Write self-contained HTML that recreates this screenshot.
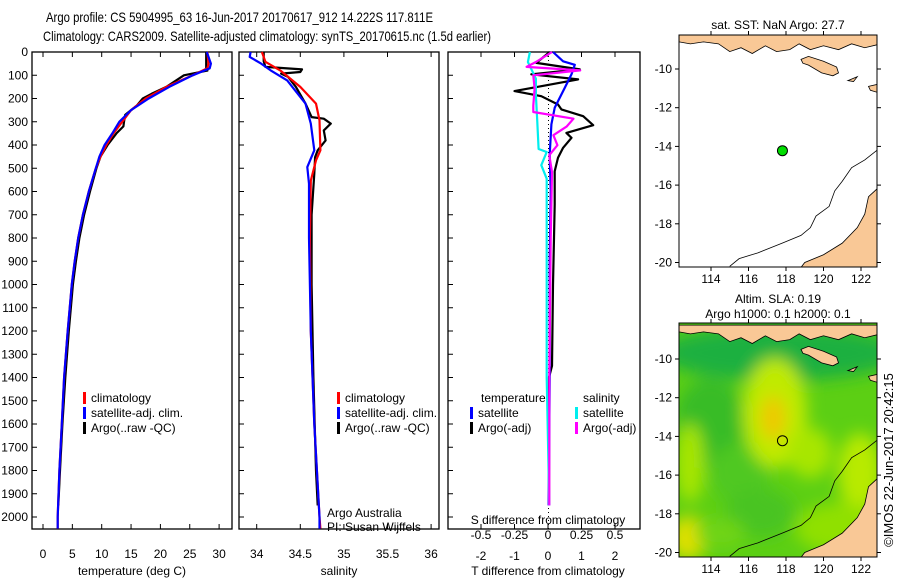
<!DOCTYPE html>
<html><head><meta charset="utf-8"><style>
body{margin:0;background:#fff}
svg{display:block;font-family:"Liberation Sans",sans-serif}
</style></head><body>
<svg id="fig" width="900" height="580" viewBox="0 0 900 580" xmlns="http://www.w3.org/2000/svg">
<text x="46" y="22" font-size="14" textLength="387" lengthAdjust="spacingAndGlyphs">Argo profile: CS 5904995_63 16-Jun-2017 20170617_912 14.222S 117.811E</text>
<text x="43" y="41" font-size="14" textLength="448" lengthAdjust="spacingAndGlyphs">Climatology: CARS2009. Satellite-adjusted climatology: synTS_20170615.nc (1.5d earlier)</text>
<g id="g1"></g>
<g id="g2"></g>
<g id="g3"></g>
<g id="m1"></g>
<g id="m2"></g>
<text transform="translate(893,460) rotate(-90)" text-anchor="middle" font-size="13">©IMOS 22-Jun-2017 20:42:15</text>
</svg>
<script>
// ---- data ----
const tempDepth = [0,50,70,100,150,200,250,300,350,400,450,500,600,700,800,900,1000,1200,1400,1600,1800,2000,2050];
const tempClim  = [28,28.2,28,25.5,21,17.5,15,13.5,12,10.8,9.8,9,7.8,6.8,6,5.4,4.9,4.2,3.6,3.2,2.8,2.5,2.5];
const tempSat   = [27.9,28.6,28.4,25.5,21.5,18,15,13,11.8,10.5,9.6,9,7.8,6.8,6,5.4,4.9,4.2,3.6,3.2,2.8,2.5,2.5];
const argoTDepth = [0,70,80,100,150,180,200,230,250,270,300,320,350,400,450,500,600,700,800,900,1000,1200,1400,1600,1800,1950];
const argoTemp   = [27.8,27.8,28,24,21,18.5,17,16,15,14,13.8,13.7,12.5,11,9.8,9.1,8,7,6.2,5.6,5.1,4.4,3.8,3.3,2.9,2.6];

const salDepth = [0,42,79,150,222,294,423,466,553,800,1200,1600,2000,2050];
const salClim  = [34.06,34.1,34.27,34.5,34.68,34.72,34.73,34.68,34.62,34.61,34.62,34.66,34.72,34.73];
const satSDepth = [0,21,50,79,122,222,308,423,495,567,800,1200,1600,2000,2050];
const salSat    = [33.93,33.92,34.05,34.16,34.35,34.56,34.62,34.66,34.58,34.6,34.6,34.62,34.66,34.72,34.72];
const argoSDepth = [0,40,64,75,86,93,107,150,222,280,287,308,337,380,423,452,523,700,1000,1400,1800,1950];
const argoSal    = [34.08,34.08,34.1,34.52,34.5,34.28,34.36,34.45,34.56,34.63,34.77,34.85,34.77,34.79,34.7,34.67,34.66,34.63,34.63,34.65,34.68,34.7];

const dTDepth = [0,47,75,96,118,147,168,190,226,247,276,315,348,369,412,455,513,656,800,1000,1350,1400,1950];
const dTArgo  = [0.05,-0.35,0.95,-0.5,0.9,-0.2,-1,-0.2,0.3,0.4,1.05,1.35,0.55,0.7,0.45,0.3,0.2,0.2,0.18,0.15,0.12,0.03,0.03];
const dTSDepth = [0,40,55,96,154,240,311,441,600,900,1400,1950];
const dTSat    = [0.15,0.45,0.8,0.7,0.5,0.2,0.1,0.05,0.08,0.05,0.05,0.02];
const dSSDepth = [0,43,115,186,301,417,430,487,545,800,1400,1950];
const dSSat    = [-0.135,-0.15,-0.09,-0.09,-0.08,-0.07,-0.01,-0.05,-0.01,-0.01,-0.01,0.01];
const dSADepth = [0,43,64,79,100,158,230,258,287,320,358,401,444,516,800,1400,1950];
const dSArgo   = [0.03,-0.09,-0.16,0.24,-0.11,-0.1,-0.11,-0.11,0.19,0.14,0.04,0.07,0.01,0.03,0.02,0.01,0.01];

const depthTicks = [0,100,200,300,400,500,600,700,800,900,1000,1100,1200,1300,1400,1500,1600,1700,1800,1900,2000];
const tempTicks = [0,5,10,15,20,25,30];
const salTicks = [34,34.5,35,35.5,36];
const salTickLabels = ['34','34.5','35','35.5','36'];
const dTTicks = [-2,-1,0,1,2];
const dSTicks = [-0.5,-0.25,0,0.25,0.5];
const dSTickLabels = ['-0.5','-0.25','0','0.25','0.5'];
const lonTicks = [114,116,118,120,122];
const latTicks = [-10,-12,-14,-16,-18,-20];
const floatLon = 117.811, floatLat = -14.222;

// ---- helpers ----
const NS='http://www.w3.org/2000/svg';
function mk(tag, attrs, parent){const e=document.createElementNS(NS,tag);for(const k in attrs)e.setAttribute(k,attrs[k]);parent.appendChild(e);return e;}
const PT=52, PB=529;
const yD = d => PT + d*0.2325;
function frame(g,x0,x1){
  const r=mk('rect',{x:x0,y:PT,width:x1-x0,height:PB-PT,fill:'none',stroke:'#000','stroke-width':1.3},g);
  
  
  depthTicks.forEach(d=>{mk('line',{x1:x0,x2:x0+5,y1:yD(d),y2:yD(d),stroke:'#000'},g);});
}
function xticks(g,vals,fx,labels,y){
  vals.forEach((v,i)=>{const x=fx(v);
    mk('line',{x1:x,x2:x,y1:PT,y2:PT+5,stroke:'#000'},g);
    mk('line',{x1:x,x2:x,y1:PB,y2:PB-5,stroke:'#000'},g);
    if(labels){const t=mk('text',{x:x,y:y,'text-anchor':'middle','font-size':12},g);t.textContent=labels[i];
      
      }
  });
}
function line(g,xs,ds,fx,color,name,w){
  const p=xs.map((v,i)=>fx(v).toFixed(1)+','+yD(ds[i]).toFixed(1)).join(' ');
  const e=mk('polyline',{points:p,fill:'none',stroke:color,'stroke-width':w||2.2,'stroke-linejoin':'round'},g);
  
  
}
function txt(g,x,y,s,name,size,anchor){const t=mk('text',{x:x,y:y,'font-size':size||12,'text-anchor':anchor||'start'},g);t.textContent=s;
  
  return t;}
function legend(g,x,y,items){
  items.forEach((it,i)=>{mk('rect',{x:x,y:y+i*15-10,width:3,height:12,fill:it[0]},g);
    txt(g,x+8,y+i*15,it[1],'legend-entry');});
}

// ---- panel 1: temperature ----
const g1=document.getElementById('g1');
const xT=v=>43+v*5.87;
frame(g1,32,232);
depthTicks.forEach(d=>txt(g1,28,yD(d)+4,String(d),'y-tick-label',12,'end'));
xticks(g1,tempTicks,xT,tempTicks.map(String),558);
txt(g1,132,575,'temperature (deg C)','x-axis-title',12,'middle');
line(g1,argoTemp,argoTDepth,xT,'#000','argo-temperature-line');
line(g1,tempClim,tempDepth,xT,'#f00','climatology-temperature-line');
line(g1,tempSat,tempDepth,xT,'#00f','satellite-temperature-line');
legend(g1,83,402,[['#f00','climatology'],['#00f','satellite-adj. clim.'],['#000','Argo(..raw -QC)']]);

// ---- panel 2: salinity ----
const g2=document.getElementById('g2');
const xS=v=>256.7+(v-34)*87.2;
frame(g2,239,439);
xticks(g2,salTicks,xS,salTickLabels,558);
txt(g2,339,575,'salinity','x-axis-title',12,'middle');
line(g2,argoSal,argoSDepth,xS,'#000','argo-salinity-line');
line(g2,salClim,salDepth,xS,'#f00','climatology-salinity-line');
line(g2,salSat,satSDepth,xS,'#00f','satellite-salinity-line');
legend(g2,337,402,[['#f00','climatology'],['#00f','satellite-adj. clim.'],['#000','Argo(..raw -QC)']]);
txt(g2,327,517,'Argo Australia','credit-line-1');
txt(g2,327,531,'PI: Susan Wijffels','credit-line-2');

// ---- panel 3: differences ----
const g3=document.getElementById('g3');
const xdT=v=>548+v*33.5;
const xdS=v=>548+v*134;
frame(g3,448,640);
xticks(g3,dTTicks,xdT,dTTicks.map(String),560);
dSTicks.forEach((v,i)=>txt(g3,xdS(v),539,dSTickLabels[i],'s-tick-label',12,'middle'));
txt(g3,548,524,'S difference from climatology','s-axis-title',12,'middle');
txt(g3,548,575,'T difference from climatology','x-axis-title',12,'middle');
const z=mk('line',{x1:548.5,x2:548.5,y1:PT,y2:PB,stroke:'#000','stroke-dasharray':'1,3'},g3);


line(g3,dTArgo,dTDepth,xdT,'#000','argo-t-diff-line');
line(g3,dTSat,dTSDepth,xdT,'#00f','satellite-t-diff-line');
line(g3,dSSat,dSSDepth,xdS,'#0ee','satellite-s-diff-line');
line(g3,dSArgo,dSADepth,xdS,'#f0f','argo-s-diff-line');
txt(g3,481,402,'temperature','legend-title');
txt(g3,583,402,'salinity','legend-title');
legend(g3,470,417,[['#00f','satellite'],['#000','Argo(-adj)']]);
legend(g3,575,417,[['#0ee','satellite'],['#f0f','Argo(-adj)']]);

// ---- maps ----
const islands=[
 [[112.3,-8.25],[122.85,-8.25],[122.85,-8.75],[122.2,-8.9],[121.5,-8.7],[120.8,-9.0],[120,-8.8],[119.3,-9.0],[118.7,-8.7],[118.2,-9.0],[117.5,-9.1],[116.9,-8.8],[116.2,-9.2],[115.6,-8.9],[115,-9.1],[114.4,-8.7],[113.6,-8.6],[112.9,-8.7],[112.3,-8.6]],
 [[118.8,-9.5],[119.2,-9.35],[120,-9.6],[120.7,-9.9],[120.8,-10.2],[120.5,-10.35],[119.9,-10.2],[119.2,-9.8],[118.9,-9.7]],
 [[121.3,-10.6],[121.8,-10.4],[121.6,-10.65]],
 [[122.4,-10.9],[122.85,-10.8],[122.85,-11.2],[122.5,-11.1]],
 [[122.85,-16.2],[122.4,-16.6],[122.2,-17.5],[121.8,-18.2],[121,-19],[120,-19.6],[119,-20],[118.8,-20.25],[122.85,-20.25]]
];
const bathy=[[115,-20.2],[115.5,-19.8],[116.5,-19.5],[117.8,-19],[118.8,-18.6],[119.3,-18.2],[119.6,-17.6],[120.3,-17.1],[120.6,-16.3],[121,-15.8],[121.5,-15.1],[122.2,-14.7],[122.85,-14.2]];
function drawMap(g,y0,y1,latY10,title,subtitle,sla){
  const fx=l=>711+(l-114)*18.75, fy=la=>latY10+(-10-la)*19.35;
  const cid='c'+y0;
  const cp=mk('clipPath',{id:cid},g);mk('rect',{x:679,y:y0,width:198,height:y1-y0},cp);
  const inner=mk('g',{'clip-path':'url(#'+cid+')'},g);
  if(sla){
    const f=mk('filter',{id:'bl',x:'-20%',y:'-20%',width:'140%',height:'140%'},g);mk('feGaussianBlur',{stdDeviation:8},f);
    mk('rect',{x:679,y:y0,width:198,height:y1-y0,fill:'#5ccf14'},inner);
    const bg=mk('g',{filter:'url(#bl)'},inner);
    [[780,y0+30,120,28,'#1fb040'],[710,y0+100,35,45,'#38bc28'],[740,y0+150,30,30,'#50c820'],
     [775,y0+90,32,55,'#c0ea00'],[773,y0+95,12,22,'#f0c800'],[810,y0+130,22,25,'#a8e600'],
     [860,y0+150,22,40,'#b8ea00'],[690,y0+140,14,40,'#a8e600'],[688,y0+215,18,22,'#e0e000'],
     [760,y0+190,35,25,'#48c420'],[840,y0+205,45,25,'#90e000'],[720,y0+210,25,15,'#70d418']]
      .forEach(b=>mk('ellipse',{cx:b[0],cy:b[1],rx:b[2],ry:b[3],fill:b[4]},bg));
  }
  islands.forEach(poly=>{const e=mk('polygon',{points:poly.map(p=>fx(p[0])+','+fy(p[1])).join(' '),fill:'#f9c896',stroke:'#000','stroke-width':0.8},inner);
    
    });
  const b=mk('polyline',{points:bathy.map(p=>fx(p[0])+','+fy(p[1])).join(' '),fill:'none',stroke:'#000','stroke-width':0.8},inner);
  
  
  mk('rect',{x:679,y:y0,width:198,height:y1-y0,fill:'none',stroke:'#000'},g);
  lonTicks.forEach(l=>{const x=fx(l);mk('line',{x1:x,x2:x,y1:y0,y2:y0-4,stroke:'#000'},g);mk('line',{x1:x,x2:x,y1:y1,y2:y1+4,stroke:'#000'},g);
    txt(g,x,y1+16,String(l),'lon-tick-label',12,'middle');});
  latTicks.forEach(l=>{const y=fy(l);mk('line',{x1:679,x2:675,y1:y,y2:y,stroke:'#000'},g);mk('line',{x1:877,x2:881,y1:y,y2:y,stroke:'#000'},g);
    txt(g,672,y+4,String(l),'lat-tick-label',12,'end');});
  const c=mk('circle',{cx:fx(floatLon),cy:fy(floatLat),r:5,fill:sla?'none':'#00dd00',stroke:'#000','stroke-width':1},g);
  
  
  txt(g,778,y0-(subtitle?20:6),title,'map-title',12,'middle');
  if(subtitle)txt(g,778,y0-5,subtitle,'map-subtitle',12,'middle');
}
drawMap(document.getElementById('m1'),35,267,69,'sat. SST: NaN Argo: 27.7',null,false);
drawMap(document.getElementById('m2'),323,557,359,'Altim. SLA: 0.19','Argo h1000: 0.1 h2000: 0.1',true);
</script>
</body></html>
